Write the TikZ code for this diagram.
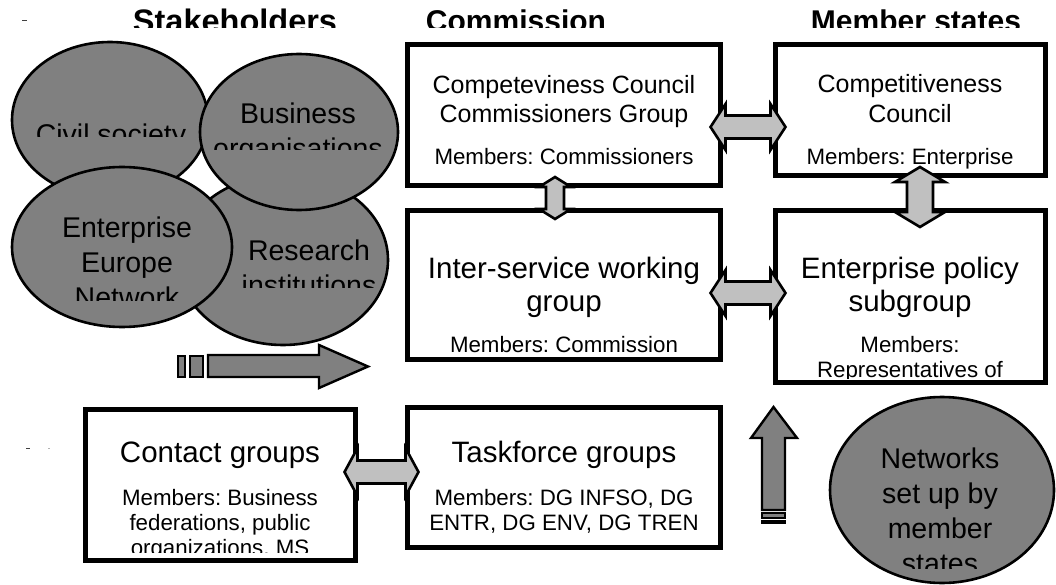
\documentclass[tikz,border=0pt]{standalone}
\usepackage{fontspec}
\setmainfont{Liberation Sans}
\usetikzlibrary{calc,shapes.geometric}
\frenchspacing
\definecolor{elgray}{RGB}{128,128,128}
\definecolor{argray}{RGB}{192,192,192}
\tikzset{
  bubble/.style={ellipse, draw, line width=2.6pt, fill=elgray, inner sep=0pt},
  box/.style={draw, line width=5pt, fill=white, inner sep=0pt},
  hdr/.style={font=\bfseries\fontsize{30}{36}\selectfont, anchor=base, inner sep=0pt},
  eltxt/.style={font=\fontsize{28.5}{35}\selectfont, align=center, anchor=base, inner sep=0pt},
  ttl/.style={font=\fontsize{29.5}{33}\selectfont, align=center, anchor=base, inner sep=0pt},
  ttls/.style={font=\fontsize{25}{29.5}\selectfont, align=center, anchor=base, inner sep=0pt},
  mem/.style={font=\fontsize{22.3}{25}\selectfont, align=center, anchor=base, inner sep=0pt},
  blk/.style={draw, line width=2.4pt, fill=elgray, line join=miter},
  dblar/.style={draw, line width=2.6pt, fill=argray, line join=miter},
  pics/dbl/.style args={#1/#2/#3/#4}{code={
    \draw[dblar] ({-#1},0) -- ++(#2,{-#3}) -- ++(0,{#3-#4}) -- ++({2*#1-2*#2},0)
      -- ++(0,{#4-#3}) -- ++(#2,#3) -- ++({-#2},#3) -- ++(0,{#4-#3})
      -- ++({2*#2-2*#1},0) -- ++(0,{#3-#4}) -- cycle;
  }},
}
\begin{document}
\begin{tikzpicture}[x=1pt, y=-1pt]
\useasboundingbox (0,0) rectangle (1056,585);
\fill[white] (0,0) rectangle (1056,585);

% headers
\begin{scope}
  \clip (0,0) rectangle (1056,28);
  \node[hdr, font=\bfseries\fontsize{32.5}{38}\selectfont] (hstake) at (235,33) {Stakeholders};
  \node[hdr] (hcom) at (516,32) {Commission};
  \node[hdr] (hms) at (916,32) {Member states};
\end{scope}
\draw[line width=0.8pt, black!75] (22,20) -- (27,20);
\draw[line width=0.8pt, black!75] (26,448) -- (30,448);
\draw[line width=0.6pt, black!30] (48,448) -- (50,448);

% stakeholder bubbles
\node[bubble, minimum width=196, minimum height=156] (civil) at (110,120) {};
\begin{scope}
  \clip (0,40) rectangle (240,137);
  \node[eltxt] (civilT) at (111,145) {Civil society};
\end{scope}
\node[bubble, minimum width=210, minimum height=170] (research) at (283,260) {};
\begin{scope}
  \clip (180,180) rectangle (400,287);
  \node[eltxt] (researchT) at (309,295) {Research\\institutions};
\end{scope}
\node[bubble, minimum width=198, minimum height=156] (business) at (299,132) {};
\begin{scope}
  \clip (200,50) rectangle (400,150);
  \node[eltxt] (businessT) at (298,159) {Business\\organisations};
\end{scope}
\node[bubble, minimum width=220, minimum height=160] (een) at (122,247) {};
\begin{scope}
  \clip (10,160) rectangle (235,300);
  \node[eltxt] (eenT) at (127,307) {Enterprise\\Europe\\Network};
\end{scope}

% striped arrow to commission
\draw[blk] (208,355) -- (319,355) -- (319,345) -- (368,366.5) -- (319,388) -- (319,377) -- (208,377) -- cycle;
\draw[blk] (190,356) rectangle (203,377);
\draw[blk] (178,356) rectangle (185,377);

% boxes
\node[box, minimum width=313, minimum height=141] (cccg) at (564,115) {};
\node[box, minimum width=270, minimum height=131] (cc) at (910.5,110) {};
\node[box, minimum width=313, minimum height=149] (isg) at (564,285) {};
\node[box, minimum width=270, minimum height=172] (eps) at (910.5,296.5) {};
\node[box, minimum width=270, minimum height=151] (contact) at (220.5,485) {};
\node[box, minimum width=313, minimum height=140] (task) at (564,477.5) {};

% box texts
\node[ttls] (cccgT) at (564,123) {Competeviness Council\\Commissioners Group};
\node[mem] (cccgM) at (564,165) {Members: Commissioners};
\node[ttls] (ccT) at (910,122.5) {Competitiveness\\Council};
\node[mem] (ccM) at (910,165) {Members: Enterprise};
\node[ttl] (isgT) at (564,311) {Inter-service working\\group};
\node[mem] (isgM) at (564,352) {Members: Commission};
\node[ttl] (epsT) at (910,311) {Enterprise policy\\subgroup};
\begin{scope}
  \clip (776,211) rectangle (1045,378);
  \node[mem] (epsM) at (910,377) {Members:\\Representatives of};
\end{scope}
\node[ttl] (contactT) at (220,462) {Contact groups};
\begin{scope}
  \clip (86,410) rectangle (355,552);
  \node[mem] (contactM) at (220,555) {Members: Business\\federations, public\\organizations, MS};
\end{scope}
\node[ttl] (taskT) at (564,462) {Taskforce groups};
\node[mem] (taskM) at (564,530) {Members: DG INFSO, DG\\ENTR, DG ENV, DG TREN};

% double arrows between boxes
\coordinate (h1) at ($(cccg.east)!0.5!(cc.west)$);
\coordinate (h2) at ($(isg.east)!0.5!(eps.west)$);
\coordinate (h3) at ($(contact.east)!0.5!(task.west)$);
\coordinate (v1) at ($(cccg.south)!0.5!(isg.north)$);
\coordinate (v2) at ($(cc.south)!0.5!(eps.north)$);
\pic at (h1 |- 0,127) {dbl=37.5/15/23/11.5};
\pic at (h2 |- 0,293) {dbl=37.5/15/23/11.5};
\pic at (h3 |- 0,472) {dbl=37/13/24/11.5};
\pic[rotate=90] at ([xshift=-9pt]v1) {dbl=21/10/16/9};
\pic[rotate=90] at ([xshift=9.5pt,yshift=-4pt]v2) {dbl=30/15/25/13};

% member states network bubble
\node[bubble, minimum width=224, minimum height=186] (networks) at (942,490) {};
\begin{scope}
  \clip (830,397) rectangle (1056,568);
  \node[eltxt] (networksT) at (940,573) {Networks\\set up by\\member\\states};
\end{scope}

% striped up arrow
\draw[blk] (762,510) -- (762,438) -- (751,438) -- (773.5,407) -- (797,438) -- (785,438) -- (785,510) -- cycle;
\draw[blk] (762,513) rectangle (785,518);
\draw[blk] (762,521) rectangle (785,523);
\end{tikzpicture}
\end{document}
